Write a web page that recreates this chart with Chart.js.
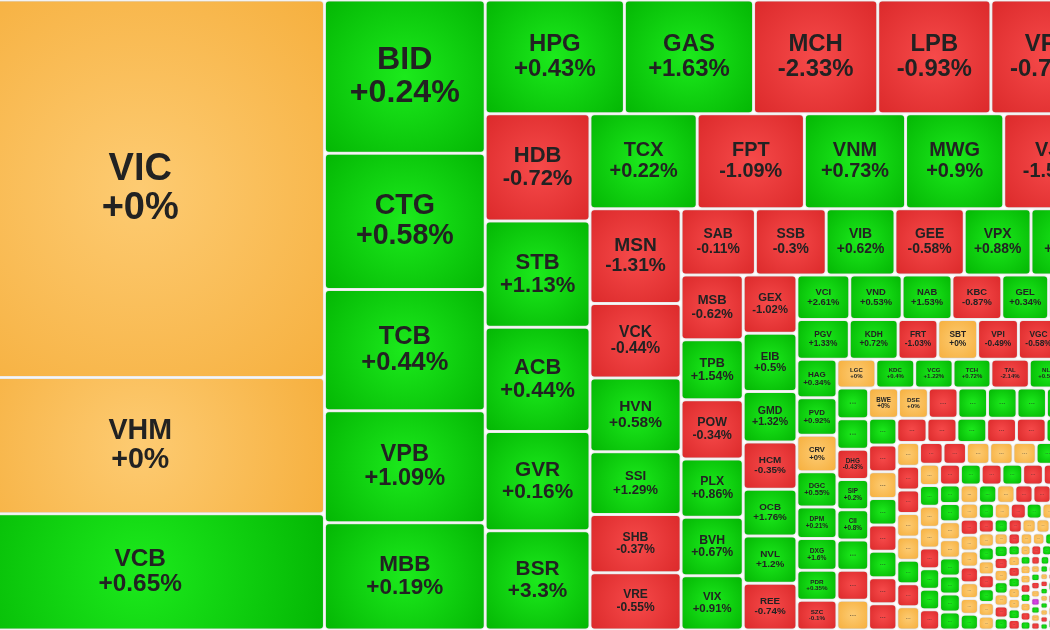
<!DOCTYPE html>
<html>
<head>
<meta charset="utf-8">
<script src="https://cdn.jsdelivr.net/npm/chart.js@4.4.1/dist/chart.umd.min.js"></script>
<style>
  html, body { margin: 0; padding: 0; background: #fff; overflow: hidden; }
  /* the map is wider than the window: it is cropped on both sides */
  #wrap { width: 1149px; height: 630px; margin-left: -44px; }
</style>
</head>
<body>
<div id="wrap"><canvas id="heatmap" width="1149" height="630"></canvas></div>
<script>
/* ============================================
   HEATMAP — market-cap treemap drawn on Chart.js scales
   ============================================ */

// Tickers, in layout order (largest first)
const tickers = [
  'VIC', 'VHM', 'VCB',
  'BID', 'CTG', 'TCB', 'VPB', 'MBB',
  'HPG', 'GAS', 'MCH', 'LPB', 'VPL',
  'HDB', 'STB', 'ACB', 'GVR', 'BSR',
  'TCX', 'FPT', 'VNM', 'MWG', 'VJC',
  'MSN', 'VCK', 'HVN', 'SSI', 'SHB', 'VRE',
  'SAB', 'SSB', 'VIB', 'GEE', 'VPX', 'PNJ',
  'MSB', 'TPB', 'POW', 'PLX', 'BVH', 'VIX',
  'GEX', 'EIB', 'GMD', 'HCM', 'OCB', 'NVL', 'REE',
  'VCI', 'VND', 'NAB', 'KBC', 'GEL', 'VHC',
  'PGV', 'KDH', 'FRT', 'SBT', 'VPI', 'VGC', 'DIG',
  'HAG', 'PVD', 'CRV', 'DGC', 'DPM', 'DXG', 'PDR', 'SZC',
  'LGC', 'KDC', 'VCG', 'TCH', 'TAL', 'NLG', 'HHV'
];

// Relative market value (cell size)
const caps = [
  139113, 50184, 42804,
  24633, 21896, 19481, 18032, 17227,
  15846, 14706, 14136, 12882, 12990,
  11235, 11130, 10920, 10400, 10390,
  10165, 10165, 9595, 9310, 9600,
  8647, 6771, 6725, 5719, 5307, 5216,
  4921, 4688, 4555, 4589, 4422, 4900,
  4031, 3719, 3688, 3625, 3625, 3375,
  3132, 3132, 2700, 2538, 2511, 2538, 2511,
  2363, 2340, 2228, 2228, 2093, 2520,
  2080, 1940, 1580, 1580, 1620, 1600, 1840,
  1539, 1499, 1458, 1418, 1256, 1276, 1195, 1195,
  1117, 1117, 1102, 1088, 1102, 1102, 1073
];

// Daily change, %
const changes = [
  0, 0, 0.65,
  0.24, 0.58, 0.44, 1.09, 0.19,
  0.43, 1.63, -2.33, -0.93, -0.73,
  -0.72, 1.13, 0.44, 0.16, 3.3,
  0.22, -1.09, 0.73, 0.9, -1.52,
  -1.31, -0.44, 0.58, 1.29, -0.37, -0.55,
  -0.11, -0.3, 0.62, -0.58, 0.88, 0.45,
  -0.62, 1.54, -0.34, 0.86, 0.67, 0.91,
  -1.02, 0.5, 1.32, -0.35, 1.76, 1.2, -0.74,
  2.61, 0.53, 1.53, -0.87, 0.34, 0.2,
  1.33, 0.72, -1.03, 0, -0.49, -0.58, -0.3,
  0.34, 0.92, 0, 0.55, 0.21, 1.6, 0.35, -0.1,
  0, 0.4, 1.22, 0.72, -2.14, 0.58, 0.3
];

// How many tickers go in each strip, and the strip direction (v = column, h = row)
const stripSizes = [3, 5, 5, 5, 5, 6, 6, 6, 7, 6, 7, 8, 7];
const stripDirs  = ['v', 'v', 'h', 'v', 'h', 'v', 'h', 'v', 'v', 'h', 'h', 'v', 'h'];

// Small caps in the bottom-right corner (most shown as "...")
const tailNames = ['', '', 'DHG', 'SIP', 'CII', '', '', '', 'BWE', 'DSE'];
const tailCaps = [
  970, 965, 962, 960, 958, 955, 950, 946,
  900, 895, 892, 890, 888, 885, 882, 880,
  760, 755, 750, 748, 745, 742, 740, 738,
  730, 725, 722, 720, 718, 715, 712,
  540, 538, 535, 533, 531, 529, 527, 525,
  516, 514, 512, 510, 508, 506, 504, 502,
  422, 420, 418, 416, 414, 412, 410, 408,
  432, 431, 430, 429, 428, 427, 426, 425,
  379, 378, 377, 376, 374, 373, 372, 371,
  331, 330, 329, 328, 328, 327, 326, 325,
  290, 289, 288, 287, 287, 286, 285, 284,
  254, 253, 252, 251, 251, 250, 249, 248,
  222, 221, 221, 220, 220, 219, 218, 217,
  194, 193, 193, 192, 192, 191, 191, 190,
  170, 169, 169, 168, 168, 167, 167, 166,
  149, 148, 148, 147, 147, 146, 146, 145,
  131, 130, 129, 129, 129, 128, 128, 127,
  114, 114, 113, 113, 113, 112, 112, 111,
  100, 100, 99, 99, 99, 98, 98, 97,
  87, 87, 86, 86, 86, 85, 85, 84,
  76, 76, 75, 75, 75, 74, 74, 73,
  67, 67, 66, 66, 66, 65, 65, 64,
  59, 59, 58, 58, 58, 57, 57, 56,
  52, 52, 51, 51, 51, 50, 50, 49,
  710, 708, 706, 704
];
const tailChanges = [
  0.4, 0.7, -0.43, 0.2, 0.8, 0.3, -0.5, 0,
  0, 0, -0.6, 0.5, 0.9, 0.2, 0.4, -0.3,
  0.6, -0.4, 0, 0.3, -0.8, 0.5, -0.2, -0.7,
  -0.5, -1.1, 0.4, -0.3, -0.6, 0.7, 0,
  0, -0.4, -0.9, 0, 0, 0.6, -0.2, 0,
  -0.3, -0.7, 0, 0, 0, 1.1, -0.4, 0.5,
  0, 0.3, 0, 0, -0.5, 0.8, 0.2, -0.6,
  -0.2, 0.9, -0.4, 0.3, -1.2, -0.5, 0.6, 0,
  0.4, 0.2, 0, 0, 0.7, 0.5, 1.3, 0.3,
  0, 0.6, 0, -0.3, -0.8, 0, 0.4, -0.5,
  0, -0.2, 0, 0, -0.6, 0, 0, 0.9,
  0.5, 0, -0.4, 0.2, 0, -0.7, 0, 0.3,
  -0.3, 0, 0.6, 0, -0.5, 0.4, 0, 0,
  0.2, -0.9, 0, 0, 0.8, -0.3, 0.5, 0,
  0, 0.7, -0.2, 0, 0.3, 0, -0.6, 0.4,
  -0.4, 0, 0, 0.5, -0.8, 0.2, 0, -0.3,
  0.6, 0, -0.5, 0.3, 0, 0, 0.9, -0.2,
  0, -0.7, 0.4, 0, 0.2, -0.4, 0, 0.5,
  0.3, 0, 0, -0.6, 0.8, 0, -0.3, 0.2,
  -0.5, 0.4, 0, 0.6, 0, -0.2, 0.3, 0,
  0, 0.5, -0.4, 0, 6.95, 0.2, 0, -0.6,
  0.7, 0, 0.3, -0.3, 0, 0.4, -0.5, 0,
  0, -0.8, 0.2, 0, 0.6, 0, -0.4, 0.3,
  -0.2, 0, 0.5, 0.4, 0, -0.6, 0, 0.2,
  0.2, -0.4, 0, 0.5
];
const tailStripSizes = [8, 8, 8, 7, 8, 8, 8, 8, 8, 8, 8, 8, 8, 8, 8, 8, 8, 8, 8, 8, 8, 8, 8, 8, 4];

// Combine main + tail
const allCaps = caps.concat(tailCaps);
const allChanges = changes.concat(tailChanges);
const allNames = tickers.concat(tailCaps.map((_, i) => tailNames[i] || ''));
const allStrips = stripSizes.concat(tailStripSizes);
const allDirs = stripDirs.concat(tailStripSizes.map((_, i) => (i % 2 === 0 ? 'v' : 'h')));

/**
 * Strip layout: each strip takes its share of what is left,
 * cells inside a strip are split by value
 */
function layoutStrips(values, sizes, dirs, x0, y0, x1, y1) {
  let remaining = values.reduce((a, b) => a + b, 0);
  const rects = [];
  let idx = 0;
  sizes.forEach((n, s) => {
    const group = values.slice(idx, idx + n);
    const groupSum = group.reduce((a, b) => a + b, 0);
    const dx = x1 - x0, dy = y1 - y0;
    if (dirs[s] === 'v') {
      const w = dx * groupSum / remaining;
      let y = y0;
      group.forEach(v => {
        const h = dy * v / groupSum;
        rects.push({ x0: x0, y0: y, x1: x0 + w, y1: y + h });
        y += h;
      });
      x0 += w;
    } else {
      const h = dy * groupSum / remaining;
      let x = x0;
      group.forEach(v => {
        const w = dx * v / groupSum;
        rects.push({ x0: x, y0: y0, x1: x + w, y1: y0 + h });
        x += w;
      });
      y0 += h;
    }
    remaining -= groupSum;
    idx += n;
  });
  return rects;
}

function palette(change) {
  if (change >= 6.9) return ['#dc52e6', '#b81ccc'];
  if (change > 0) return ['#1cea1c', '#04b704'];
  if (change < 0) return ['#f64a4a', '#dc2a2b'];
  return ['#fdcb72', '#f6b03f'];
}

function fmtChange(v) {
  return (v >= 0 ? '+' : '') + v + '%';
}

const FONT = '"Liberation Sans", Arial, sans-serif';

const treemapPlugin = {
  id: 'treemapCells',
  afterDatasetsDraw(chart) {
    const { ctx, scales: { x, y } } = chart;
    const rects = layoutStrips(allCaps, allStrips, allDirs, x.min, y.min, x.max, y.max);
    const gap = 1.5;

    rects.forEach((r, i) => {
      const px0 = x.getPixelForValue(r.x0), px1 = x.getPixelForValue(r.x1);
      const py0 = y.getPixelForValue(r.y0), py1 = y.getPixelForValue(r.y1);
      const fullW = Math.abs(px1 - px0), fullH = Math.abs(py1 - py0);
      const left = Math.min(px0, px1) + gap, top = Math.min(py0, py1) + gap;
      const w = fullW - 2 * gap, h = fullH - 2 * gap;
      if (w <= 0 || h <= 0) return;

      const change = allChanges[i];
      const [inner, outer] = palette(change);
      const cx = left + w / 2, cy = top + h / 2;
      const grad = ctx.createRadialGradient(cx, cy, 0, cx, cy, Math.hypot(w, h) / 2);
      grad.addColorStop(0, inner);
      grad.addColorStop(1, outer);

      ctx.save();
      ctx.shadowColor = 'rgba(0, 0, 0, 0.3)';
      ctx.shadowBlur = 2;
      ctx.fillStyle = grad;
      ctx.beginPath();
      ctx.roundRect(left, top, w, h, Math.min(3, w / 4, h / 4));
      ctx.fill();
      ctx.restore();

      // Labels
      const side = Math.min(fullW, fullH);
      const name = allNames[i];
      ctx.save();
      ctx.textAlign = 'center';
      if (name) {
        const fs = Math.min(38, side * 0.21);
        ctx.fillStyle = '#222';
        ctx.textBaseline = 'middle';
        ctx.font = `bold ${fs}px ${FONT}`;
        ctx.fillText(name, cx, cy - fs * 0.52);
        ctx.fillText(fmtChange(change), cx, cy + fs * 0.52);
      } else {
        const fs = side * 0.27;
        ctx.fillStyle = 'rgba(40, 40, 40, 0.55)';
        ctx.textBaseline = 'alphabetic';
        ctx.font = `bold ${fs}px ${FONT}`;
        ctx.fillText('...', cx, cy + fs * 0.12);
      }
      ctx.restore();
    });
  }
};

new Chart(document.getElementById('heatmap'), {
  type: 'scatter',
  data: { datasets: [{ data: [] }] },
  options: {
    responsive: false,
    animation: false,
    events: [],
    layout: { padding: 0 },
    scales: {
      x: { type: 'linear', min: 0, max: 1149, display: false },
      y: { type: 'linear', min: 0, max: 630, reverse: true, display: false }
    },
    plugins: {
      legend: { display: false },
      tooltip: { enabled: false }
    }
  },
  plugins: [treemapPlugin]
});
</script>
</body>
</html>
